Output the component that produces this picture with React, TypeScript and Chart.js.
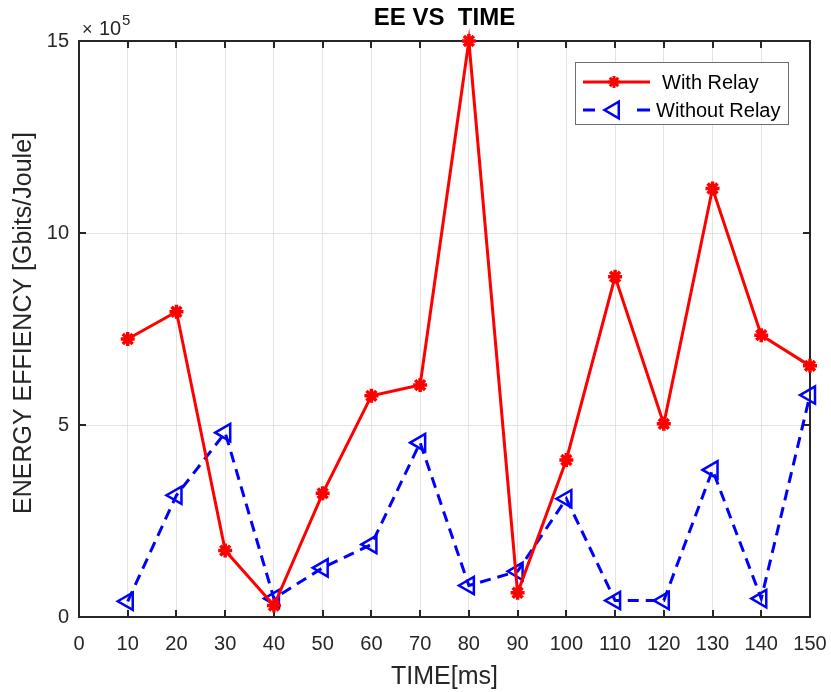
import React, { useEffect, useRef } from "react";
import { Chart, registerables } from "chart.js";

Chart.register(...registerables);

const time = [10, 20, 30, 40, 50, 60, 70, 80, 90, 100, 110, 120, 130, 140, 150];
const withRelay = [7.24, 7.95, 1.73, 0.3, 3.22, 5.76, 6.04, 15.0, 0.63, 4.09, 8.86, 5.03, 11.16, 7.34, 6.54];
const withoutRelay = [0.41, 3.17, 4.8, 0.48, 1.28, 1.89, 4.54, 0.82, 1.19, 3.08, 0.43, 0.43, 3.83, 0.48, 5.78];
const xTicks = [0, 10, 20, 30, 40, 50, 60, 70, 80, 90, 100, 110, 120, 130, 140, 150];
const yTicks = [0, 5, 10, 15];
const seriesNames = ["With Relay", "Without Relay"];
const titleText = "EE VS  TIME";
const xLabel = "TIME[ms]";
const yLabel = "ENERGY EFFIENCY [Gbits/Joule]";

const FONT = "'Liberation Sans', Arial, Helvetica, sans-serif";
const AXIS = "#262626";
const RED = "#ff0000";
const BLUE = "#0000ff";

function drawStar(ctx: CanvasRenderingContext2D, x: number, y: number, r: number) {
  ctx.save();
  ctx.strokeStyle = RED;
  ctx.lineWidth = 3;
  ctx.beginPath();
  for (let i = 0; i < 4; i++) {
    const a = (i * Math.PI) / 4;
    ctx.moveTo(x - Math.cos(a) * r, y - Math.sin(a) * r);
    ctx.lineTo(x + Math.cos(a) * r, y + Math.sin(a) * r);
  }
  ctx.stroke();
  ctx.restore();
}

function drawLeftTri(ctx: CanvasRenderingContext2D, x: number, y: number, r: number) {
  ctx.save();
  ctx.strokeStyle = BLUE;
  ctx.lineWidth = 2.5;
  ctx.beginPath();
  ctx.moveTo(x - r, y);
  ctx.lineTo(x + r / 2, y - (r * Math.sqrt(3)) / 2);
  ctx.lineTo(x + r / 2, y + (r * Math.sqrt(3)) / 2);
  ctx.closePath();
  ctx.stroke();
  ctx.restore();
}

const framePlugin = {
  id: "matlabFrame",
  beforeDatasetsDraw(chart: any) {
    const { ctx, chartArea: a, scales } = chart;
    const x = scales.x;
    const y = scales.y;
    ctx.save();
    ctx.strokeStyle = AXIS;
    ctx.lineWidth = 2;
    ctx.strokeRect(a.left, a.top, a.right - a.left, a.bottom - a.top);
    ctx.beginPath();
    const tl = 7;
    for (const v of xTicks) {
      const px = Math.round(x.getPixelForValue(v));
      ctx.moveTo(px, a.bottom);
      ctx.lineTo(px, a.bottom - tl);
      ctx.moveTo(px, a.top);
      ctx.lineTo(px, a.top + tl);
    }
    for (const v of yTicks) {
      const py = Math.round(y.getPixelForValue(v));
      ctx.moveTo(a.left, py);
      ctx.lineTo(a.left + tl, py);
      ctx.moveTo(a.right, py);
      ctx.lineTo(a.right - tl, py);
    }
    ctx.stroke();
    ctx.restore();
  },
  afterDraw(chart: any) {
    const { ctx, chartArea: a } = chart;
    const cx = (a.left + a.right) / 2;
    ctx.save();
    // title
    ctx.fillStyle = "#000000";
    ctx.font = `bold 24px ${FONT}`;
    ctx.textAlign = "center";
    ctx.textBaseline = "middle";
    ctx.fillText(titleText, cx, 18);
    // x label
    ctx.fillStyle = AXIS;
    ctx.font = `25px ${FONT}`;
    ctx.fillText(xLabel, cx, 677);
    // y label
    ctx.save();
    ctx.translate(24, 323);
    ctx.rotate(-Math.PI / 2);
    ctx.fillText(yLabel, 0, 0);
    ctx.restore();
    // exponent
    ctx.textAlign = "left";
    ctx.textBaseline = "alphabetic";
    ctx.font = `18px ${FONT}`;
    ctx.fillText("\u00d7", 82, 35);
    ctx.font = `20px ${FONT}`;
    ctx.fillText("10", 99, 35);
    ctx.font = `15px ${FONT}`;
    ctx.fillText("5", 122, 25);
    // legend
    const lx = 575, ly = 62, lw = 213, lh = 62;
    ctx.fillStyle = "#ffffff";
    ctx.fillRect(lx, ly, lw, lh);
    ctx.strokeStyle = "#6e6e6e";
    ctx.lineWidth = 1;
    ctx.strokeRect(lx + 0.5, ly + 0.5, lw, lh);
    // red entry
    ctx.strokeStyle = RED;
    ctx.lineWidth = 3;
    ctx.beginPath();
    ctx.moveTo(583, 82);
    ctx.lineTo(650, 82);
    ctx.stroke();
    drawStar(ctx, 614, 82, 6);
    // blue entry
    ctx.strokeStyle = BLUE;
    ctx.lineWidth = 3;
    ctx.beginPath();
    ctx.moveTo(583, 110);
    ctx.lineTo(595, 110);
    ctx.moveTo(637, 110);
    ctx.lineTo(650, 110);
    ctx.stroke();
    drawLeftTri(ctx, 614, 110, 9.5);
    ctx.fillStyle = "#000000";
    ctx.font = `20px ${FONT}`;
    ctx.textBaseline = "middle";
    ctx.fillText(seriesNames[0], 662, 83);
    ctx.fillText(seriesNames[1], 656, 111);
    ctx.restore();
  },
};

export default function App() {
  const ref = useRef<HTMLCanvasElement | null>(null);
  useEffect(() => {
    if (!ref.current) return;
    const chart = new Chart(ref.current, {
      type: "line",
      data: {
        datasets: [
          {
            label: seriesNames[0],
            data: time.map((t, i) => ({ x: t, y: withRelay[i] })),
            borderColor: RED,
            backgroundColor: RED,
            borderWidth: 3,
            pointStyle: "star",
            pointRadius: 7,
            pointBorderWidth: 3.5,
            pointBorderColor: RED,
            pointBackgroundColor: RED,
            tension: 0,
            clip: false as any,
          },
          {
            label: seriesNames[1],
            data: time.map((t, i) => ({ x: t, y: withoutRelay[i] })),
            borderColor: BLUE,
            backgroundColor: "rgba(0,0,0,0)",
            borderWidth: 3,
            borderDash: [11, 7],
            pointStyle: "triangle",
            pointRotation: -90,
            pointRadius: 10,
            pointBorderWidth: 2.5,
            pointBorderColor: BLUE,
            pointBackgroundColor: "rgba(0,0,0,0)",
            tension: 0,
            clip: false as any,
          },
        ],
      },
      options: {
        responsive: false,
        animation: false,
        layout: { padding: { top: 41, right: 21, left: 0, bottom: 0 } },
        plugins: {
          legend: { display: false },
          title: { display: false },
          tooltip: { enabled: false },
        },
        scales: {
          x: {
            type: "linear",
            min: 0,
            max: 150,
            afterFit: (s: any) => {
              s.height = 75;
              s.paddingLeft = 0;
              s.paddingRight = 0;
            },
            afterBuildTicks: (s: any) => {
              s.ticks = xTicks.map((v) => ({ value: v }));
            },
            ticks: {
              color: AXIS,
              font: { size: 20, family: FONT },
              padding: 15,
              maxRotation: 0,
              autoSkip: false,
              callback: (v: any) => String(v),
            },
            grid: { color: "#e3e3e3", lineWidth: 1, drawTicks: false },
            border: { display: false },
          },
          y: {
            type: "linear",
            min: 0,
            max: 15,
            afterFit: (s: any) => {
              s.width = 79;
              s.paddingTop = 0;
              s.paddingBottom = 0;
            },
            afterBuildTicks: (s: any) => {
              s.ticks = yTicks.map((v) => ({ value: v }));
            },
            ticks: {
              color: AXIS,
              font: { size: 20, family: FONT },
              padding: 10,
              callback: (v: any) => String(v),
            },
            grid: { color: "#e3e3e3", lineWidth: 1, drawTicks: false },
            border: { display: false },
          },
        },
      },
      plugins: [framePlugin],
    });
    return () => chart.destroy();
  }, []);
  return (
    <div style={{ position: "absolute", left: 0, top: 0, width: 831, height: 692, background: "#ffffff" }}>
      <canvas ref={ref} width={831} height={692} style={{ display: "block", width: 831, height: 692 }} />
    </div>
  );
}
